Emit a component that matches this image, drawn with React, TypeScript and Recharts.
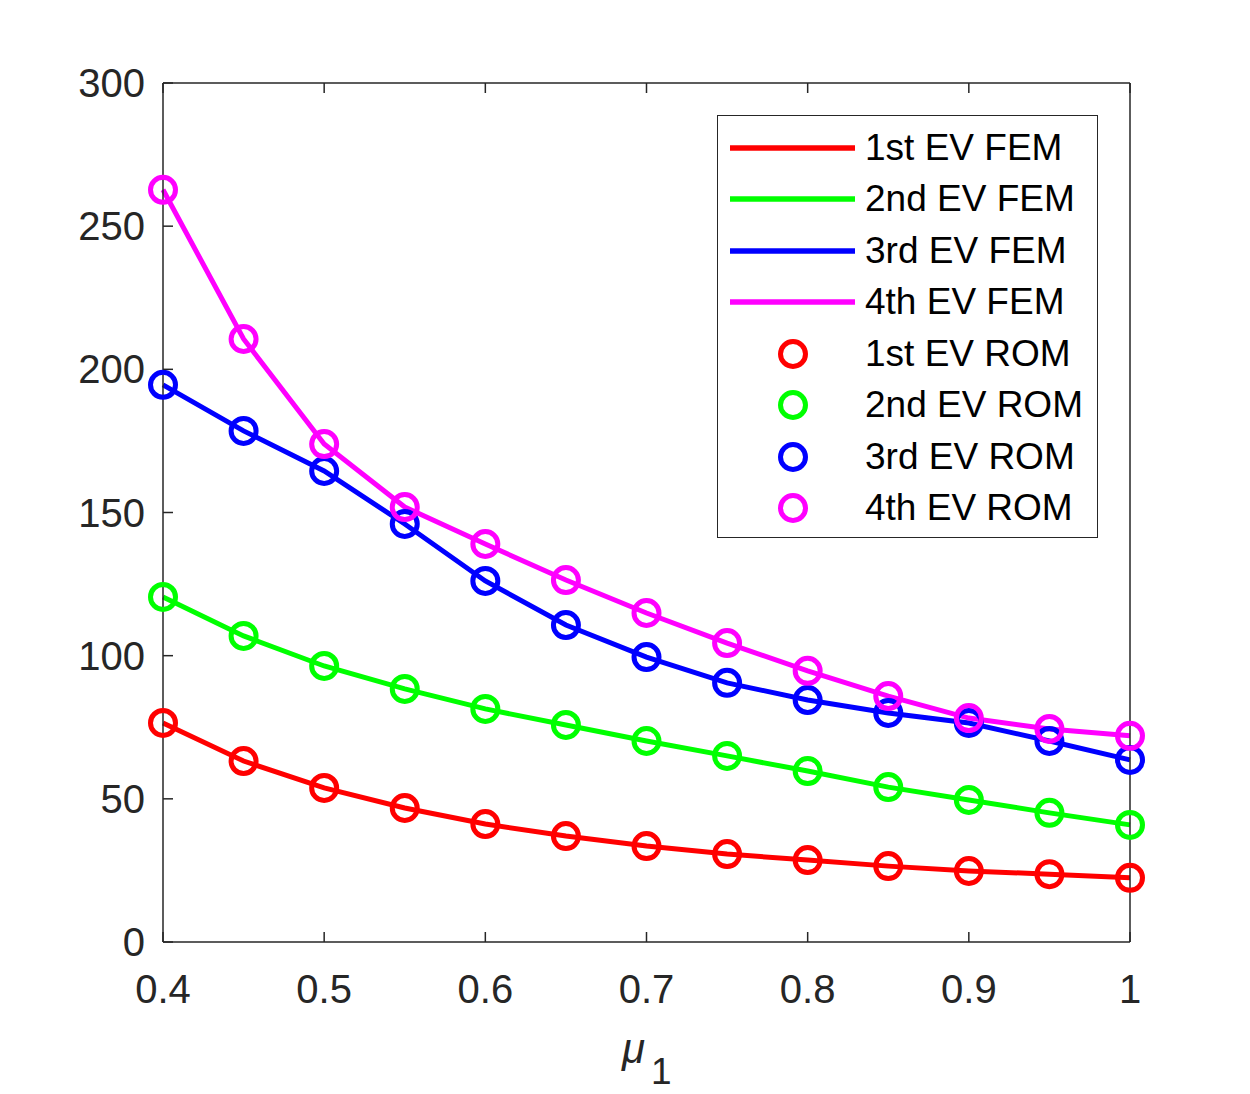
import React from 'react';
import { ComposedChart, Line, XAxis, YAxis, Legend } from 'recharts';

const mu = [0.4, 0.45, 0.5, 0.55, 0.6, 0.65, 0.7, 0.75, 0.8, 0.85, 0.9, 0.95, 1.0];
const ev1 = [76.5, 63.2, 53.8, 46.8, 41.2, 37.0, 33.5, 30.7, 28.6, 26.5, 24.8, 23.7, 22.4];
const ev2 = [120.5, 106.9, 96.4, 88.4, 81.4, 75.8, 70.2, 65.0, 59.7, 54.1, 49.6, 45.1, 40.9];
const ev3 = [194.6, 178.5, 164.5, 146.0, 126.1, 110.7, 99.5, 90.5, 84.5, 80.0, 76.5, 70.2, 63.6];
const ev4 = [262.7, 210.6, 173.9, 151.9, 139.0, 126.4, 114.9, 104.4, 94.7, 85.9, 78.2, 74.4, 72.0];

const xTicks = [0.4, 0.5, 0.6, 0.7, 0.8, 0.9, 1];
const yTicks = [0, 50, 100, 150, 200, 250, 300];

const seriesNames = ['1st', '2nd', '3rd', '4th'];
const colors = ['#ff0000', '#00ff00', '#0000ff', '#ff00ff'];
const keys = ['ev1', 'ev2', 'ev3', 'ev4'];

const data = mu.map((m, i) => ({ mu: m, ev1: ev1[i], ev2: ev2[i], ev3: ev3[i], ev4: ev4[i] }));

const FONT = '"Liberation Sans", Arial, Helvetica, sans-serif';
const AXIS = '#262626';
const TICK_LEN = 10;
const TICK_FS = 40;
// 0 gets replaced by the default tick size, so use a tiny value instead
const EPS = 0.001;

// inward ticks (matlab style); x/y sit on the axis line
function BottomTick({ x, y, payload }: any) {
  return (
    <g>
      <line x1={x} x2={x} y1={y} y2={y - TICK_LEN} stroke={AXIS} strokeWidth={1.5} />
      <text x={x} y={y + 61} textAnchor="middle" fill={AXIS} fontSize={TICK_FS} fontFamily={FONT}>
        {String(payload.value)}
      </text>
    </g>
  );
}

function LeftTick({ x, y, payload }: any) {
  return (
    <g>
      <line x1={x} x2={x + TICK_LEN} y1={y} y2={y} stroke={AXIS} strokeWidth={1.5} />
      <text x={x - 18} y={y + 14} textAnchor="end" fill={AXIS} fontSize={TICK_FS} fontFamily={FONT}>
        {String(payload.value)}
      </text>
    </g>
  );
}

function TopTick({ x, y }: any) {
  return <line x1={x} x2={x} y1={y} y2={y + TICK_LEN} stroke={AXIS} strokeWidth={1.5} />;
}

function RightTick({ x, y }: any) {
  return <line x1={x} x2={x - TICK_LEN} y1={y} y2={y} stroke={AXIS} strokeWidth={1.5} />;
}

function EVLegend() {
  const rows = [
    ...seriesNames.map((n, i) => ({ label: `${n} EV FEM`, color: colors[i], kind: 'line' })),
    ...seriesNames.map((n, i) => ({ label: `${n} EV ROM`, color: colors[i], kind: 'circle' })),
  ];
  return (
    <div
      style={{
        border: `1.5px solid ${AXIS}`,
        background: '#fff',
        width: 381,
        padding: '6px 0 3px 0',
        boxSizing: 'border-box',
        fontFamily: FONT,
        fontSize: 37,
        color: '#000',
      }}
    >
      {rows.map((r) => (
        <div key={r.label} style={{ display: 'flex', alignItems: 'center', height: 51.5 }}>
          <svg width={147} height={40} style={{ flex: 'none' }}>
            {r.kind === 'line' ? (
              <line x1={12} x2={137} y1={20} y2={20} stroke={r.color} strokeWidth={5.5} />
            ) : (
              <circle cx={75} cy={20} r={12.5} fill="none" stroke={r.color} strokeWidth={5} />
            )}
          </svg>
          <span style={{ whiteSpace: 'nowrap' }}>{r.label}</span>
        </div>
      ))}
    </div>
  );
}

function MuLabel() {
  return (
    <text fontFamily={FONT} fill={AXIS}>
      <tspan x={622} y={1063} fontStyle="italic" fontSize={42}>μ</tspan>
      <tspan x={651} y={1084} fontSize={37}>1</tspan>
    </text>
  );
}

const axisLine = { stroke: AXIS, strokeWidth: 1.5 };

export default function App() {
  return (
    <div style={{ position: 'absolute', left: 0, top: 0, width: 1250, height: 1094, background: '#fff' }}>
      <ComposedChart
        width={1250}
        height={1094}
        data={data}
        margin={{ top: 82, right: 119, left: 0, bottom: 0 }}
        style={{ fontFamily: FONT }}
      >
        <XAxis
          dataKey="mu"
          type="number"
          domain={[0.4, 1]}
          ticks={xTicks}
          height={152}
          tickSize={EPS}
          tickMargin={EPS}
          tick={<BottomTick />}
          tickLine={false}
          axisLine={axisLine}
          interval={0}
          label={<MuLabel />}
        />
        <XAxis
          xAxisId="top"
          orientation="top"
          dataKey="mu"
          type="number"
          domain={[0.4, 1]}
          ticks={xTicks}
          height={1}
          tickSize={EPS}
          tickMargin={EPS}
          tick={<TopTick />}
          tickLine={false}
          axisLine={axisLine}
          interval={0}
        />
        <YAxis
          type="number"
          domain={[0, 300]}
          ticks={yTicks}
          width={163}
          tickSize={EPS}
          tickMargin={EPS}
          tick={<LeftTick />}
          tickLine={false}
          axisLine={axisLine}
          interval={0}
        />
        <YAxis
          yAxisId="right"
          orientation="right"
          type="number"
          domain={[0, 300]}
          ticks={yTicks}
          width={1}
          tickSize={EPS}
          tickMargin={EPS}
          tick={<RightTick />}
          tickLine={false}
          axisLine={axisLine}
          interval={0}
        />
        {keys.map((k, i) => (
          <Line
            key={`fem-${k}`}
            dataKey={k}
            name={`${seriesNames[i]} EV FEM`}
            type="linear"
            stroke={colors[i]}
            strokeWidth={5}
            dot={false}
            activeDot={false}
            isAnimationActive={false}
          />
        ))}
        {keys.map((k, i) => (
          <Line
            key={`rom-${k}`}
            dataKey={k}
            name={`${seriesNames[i]} EV ROM`}
            type="linear"
            stroke="none"
            dot={{ r: 12.5, fill: 'none', stroke: colors[i], strokeWidth: 5 }}
            activeDot={false}
            isAnimationActive={false}
          />
        ))}
        <Legend
          layout="vertical"
          align="center"
          verticalAlign="middle"
          content={() => <EVLegend />}
          wrapperStyle={{ position: 'absolute', left: 717, top: 115, width: 381 }}
        />
      </ComposedChart>
    </div>
  );
}
